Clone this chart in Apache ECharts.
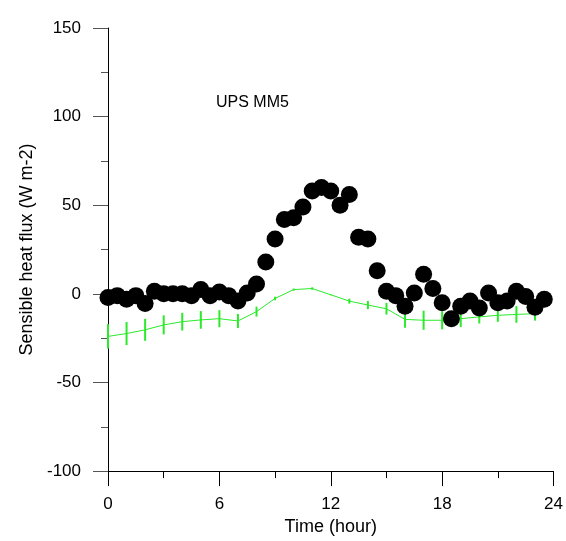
<!DOCTYPE html>
<html>
<head>
<meta charset="utf-8">
<script src="https://cdn.jsdelivr.net/npm/echarts@6/dist/echarts.min.js"></script>
<style>
html,body{margin:0;padding:0;background:#fff;overflow:hidden;}
#chart{width:566px;height:541px;}
</style>
</head>
<body>
<div id="chart"></div>
<script>
// Observed (black dots), every half hour
const obsHours = [0,0.5,1,1.5,2,2.5,3,3.5,4,4.5,5,5.5,6,6.5,7,7.5,8,8.5,9,9.5,10,10.5,11,11.5,12,12.5,13,13.5,14,14.5,15,15.5,16,16.5,17,17.5,18,18.5,19,19.5,20,20.5,21,21.5,22,22.5,23,23.5];
const obsFlux = [-2,-1,-3,-1,-5.5,1.5,0,0,0,-1,2.5,-1,1,-1,-4,0.5,5.5,18,31,42,43,49,58,60,58,50,56,32,31,13,1.5,-1,-7,0.5,11,3,-5,-14,-7,-4,-8,0.5,-5,-4,1.5,-1.5,-7.5,-3];
// Model (green line with error bars), hourly
const modHours = [0,1,2,3,4,5,6,7,8,9,10,11,12,13,14,15,16,17,18,19,20,21,22,23];
const modFlux = [-24,-22.4,-20.3,-17.5,-15.7,-14.7,-14,-15.3,-10,-2.6,2.4,3,-0.5,-4.1,-6.3,-8.4,-14.4,-14.9,-14.9,-14,-13,-12.1,-11.6,-11.2];
const modErr = [6.8,6.5,6.2,5.4,5,5,4.8,4,2.8,1,0.6,0.7,0.3,1.4,2.3,3.3,4.7,5.4,5.1,4.7,3.7,3.7,4.7,3.9];
const xTicks = [0,6,12,18,24];
const yTicks = [-100,-50,0,50,100,150];
const annotation = 'UPS MM5';

const green = '#2bea2b';
const chart = echarts.init(document.getElementById('chart'));
const errData = modHours.map((h,i)=>[h, modFlux[i]-modErr[i], modFlux[i]+modErr[i]]);
chart.setOption({
  backgroundColor:'#ffffff',
  animation:false,
  textStyle:{fontFamily:'Liberation Sans, Arial, sans-serif'},
  grid:{left:108,right:11,top:28,bottom:66,containLabel:false},
  graphic:[{type:'text',left:216,top:95,style:{text:annotation,fontSize:16,fill:'#000',fontFamily:'Liberation Sans, Arial, sans-serif'}}],
  xAxis:{
    type:'value',min:xTicks[0],max:xTicks[xTicks.length-1],interval:6,
    name:'Time (hour)',nameLocation:'middle',nameGap:46,
    nameTextStyle:{fontSize:18,color:'#000'},
    axisLine:{onZero:false,lineStyle:{color:'#000',width:1}},
    axisTick:{inside:false,length:15,lineStyle:{color:'#000'}},
    minorTick:{show:true,splitNumber:2,length:7,lineStyle:{color:'#000'}},
    axisLabel:{fontSize:17,color:'#000',margin:25},
    splitLine:{show:false}
  },
  yAxis:{
    type:'value',min:yTicks[0],max:yTicks[yTicks.length-1],interval:50,
    name:'Sensible heat flux (W m-2)',nameLocation:'middle',nameGap:70,nameRotate:90,
    nameTextStyle:{fontSize:18,color:'#000'},
    axisLine:{onZero:false,lineStyle:{color:'#000',width:1}},
    axisTick:{inside:false,length:15,lineStyle:{color:'#555'}},
    minorTick:{show:true,splitNumber:2,length:7,lineStyle:{color:'#555'}},
    axisLabel:{fontSize:17,color:'#000',margin:27},
    splitLine:{show:false}
  },
  series:[
    {type:'line',data:modHours.map((h,i)=>[h,modFlux[i]]),showSymbol:false,symbol:'none',
     lineStyle:{color:green,width:1},z:2},
    {type:'custom',data:errData,z:3,
     renderItem:function(params,api){
       const p1 = api.coord([api.value(0),api.value(1)]);
       const p2 = api.coord([api.value(0),api.value(2)]);
       return {type:'line',shape:{x1:p1[0],y1:p1[1],x2:p2[0],y2:p2[1]},style:{stroke:green,lineWidth:2}};
     }},
    {type:'scatter',data:obsHours.map((h,i)=>[h,obsFlux[i]]),symbol:'circle',symbolSize:17,
     itemStyle:{color:'#000',opacity:1},z:5}
  ]
});
</script>
</body>
</html>
